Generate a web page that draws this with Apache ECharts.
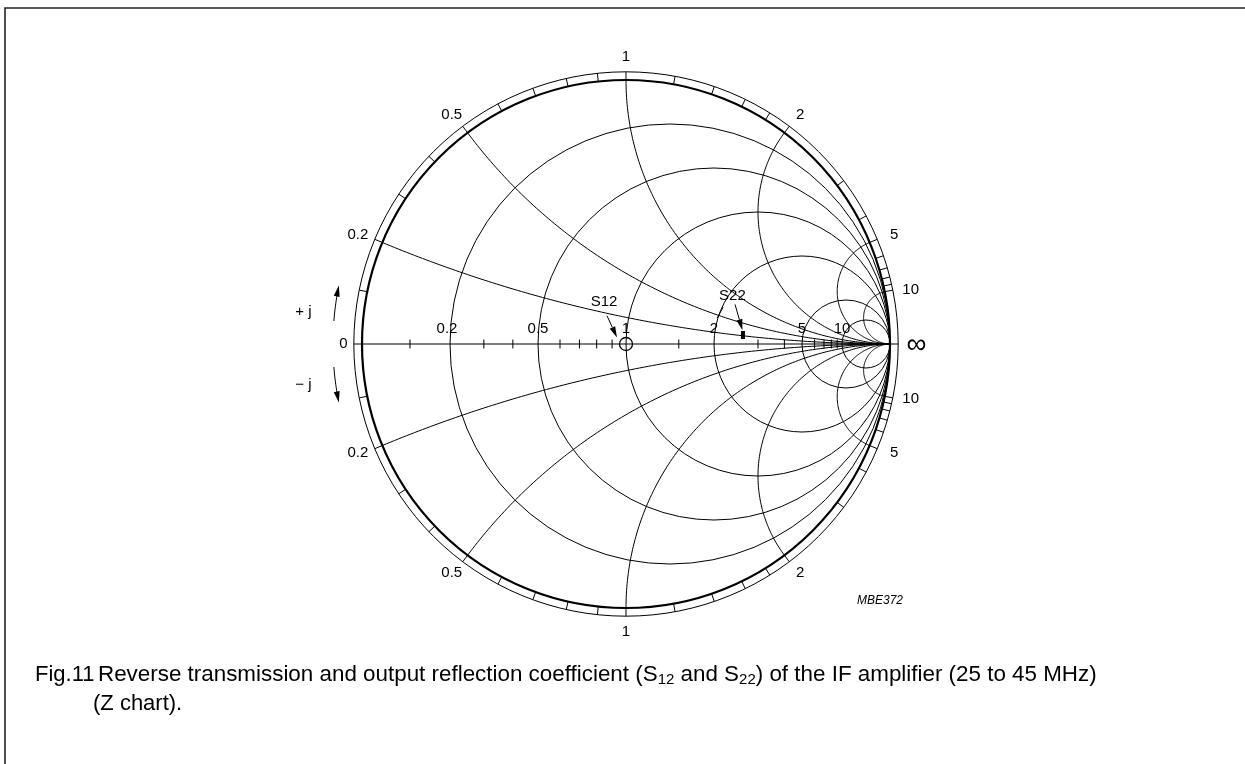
<!DOCTYPE html>
<html>
<head>
<meta charset="utf-8">
<title>Fig.11 Z chart</title>
<script src="https://cdn.jsdelivr.net/npm/echarts@6/dist/echarts.min.js"></script>
<style>
html, body { margin: 0; padding: 0; background: #fff; }
#chart { width: 1245px; height: 764px; }
</style>
</head>
<body>
<div id="chart"></div>
<script>
// chart grid values (normalised impedance)
var resistanceCircles = [0.2, 0.5, 1, 2, 5, 10];
var reactanceArcs = [0.2, 0.5, 1, 2, 5, 10];
var rimLabels = ['0.2', '0.5', '1', '2', '5', '10'];
var axisLabels = ['0.2', '0.5', '1', '2', '5', '10'];
var rimTicks = [0.1, 0.2, 0.3, 0.4, 0.5, 0.6, 0.7, 0.8, 0.9, 1, 1.2, 1.4, 1.6, 1.8, 2, 3, 4, 5, 6, 7, 8, 9, 10];
var axisTicks = [0.1, 0.3, 0.4, 0.6, 0.7, 0.8, 0.9, 1.5, 3, 4, 6, 7, 8, 9];

// measured points, reflection plane [re, im], 25 -> 45 MHz
var s12Points = [[0, 0]];
var s22Points = [[0.443, 0.019], [0.443, 0.049]];

var FONT = "'Liberation Sans', Arial, Helvetica, sans-serif";

// gamma = (z - 1) / (z + 1)
function gammaFromZ(r, x) {
	var a = r - 1, c = r + 1;
	var den = c * c + x * x;
	return [(a * c + x * x) / den, (x * c - a * x) / den];
}

function both(list) {
	var out = [];
	for (var i = 0; i < list.length; i++) {
		out.push([list[i], i]);
		out.push([-list[i], i]);
	}
	return out;
}

function lineStyle(w, c) {
	return { fill: 'none', stroke: c || '#000', lineWidth: w || 1 };
}

function textEl(x, y, txt, size, extra) {
	return {
		type: 'text', silent: true,
		style: {
			x: x, y: y, text: txt, font: (extra || '') + size + 'px ' + FONT,
			fill: '#000', align: 'center', verticalAlign: 'middle'
		}
	};
}

function renderResistance(params, api) {
	var r = api.value(0);
	var c = api.coord([r / (1 + r), 0]);
	var rad = api.size([1 / (1 + r), 0])[0];
	return { type: 'circle', silent: true, shape: { cx: c[0], cy: c[1], r: rad }, style: lineStyle(1) };
}

function renderReactance(params, api) {
	var x = api.value(0);
	var ax = Math.abs(x), s = x < 0 ? -1 : 1;
	var R = 1 / ax;
	var end = gammaFromZ(0, ax);
	var a0 = -Math.PI / 2;
	var a1 = Math.atan2(end[1] - R, end[0] - 1);
	if (a1 > a0) a1 -= 2 * Math.PI;
	var pts = [];
	for (var k = 0; k <= 120; k++) {
		var a = a0 + (a1 - a0) * k / 120;
		pts.push(api.coord([1 + R * Math.cos(a), s * (R + R * Math.sin(a))]));
	}
	return { type: 'polyline', silent: true, shape: { points: pts }, style: lineStyle(1) };
}

function renderRimTick(params, api) {
	var g = gammaFromZ(0, api.value(0));
	var p1 = api.coord(g);
	var p2 = api.coord([g[0] * 1.031, g[1] * 1.031]);
	return { type: 'line', silent: true, shape: { x1: p1[0], y1: p1[1], x2: p2[0], y2: p2[1] }, style: lineStyle(1) };
}

function renderRimLabel(params, api) {
	var x = api.value(0);
	var g = gammaFromZ(0, x);
	var p = api.coord([g[0] * 1.1, g[1] * 1.1]);
	return textEl(p[0], p[1] + (x > 0 ? 3 : -3), rimLabels[api.value(1)], 15);
}

function renderAxisTick(params, api) {
	var g = gammaFromZ(api.value(0), 0);
	var p = api.coord(g);
	return { type: 'line', silent: true, shape: { x1: p[0], y1: p[1] - 4.5, x2: p[0], y2: p[1] + 4.5 }, style: lineStyle(1) };
}

function renderAxisLabel(params, api) {
	var i = api.value(1);
	var g = gammaFromZ(api.value(0), 0);
	var p = api.coord(g);
	return textEl(p[0] + (i == 0 ? -3 : 0), p[1] - 15, axisLabels[i], 15);
}

function renderFrame(params, api) {
	var c = api.coord([0, 0]);
	var r1 = api.size([1, 0])[0];
	var a = api.coord([-1.031, 0]);
	var b = api.coord([1.031, 0]);
	var zero = api.coord([-1.07, 0]);
	var inf = api.coord([1.1, 0]);
	return {
		type: 'group', silent: true,
		children: [
			{ type: 'line', shape: { x1: a[0], y1: a[1], x2: b[0], y2: b[1] }, style: lineStyle(1.6, '#555') },
			{ type: 'circle', shape: { cx: c[0], cy: c[1], r: r1 }, style: lineStyle(2.2) },
			{ type: 'circle', shape: { cx: c[0], cy: c[1], r: r1 * 1.031 }, style: lineStyle(1) },
			textEl(zero[0], zero[1], '0', 15),
			textEl(inf[0], inf[1] + 1, '\u221e', 28)
		]
	};
}

// +j / -j direction arcs, in degrees round the chart centre
function jArc(from, to) {
	var pts = [];
	for (var k = 0; k <= 12; k++) {
		var t = (from + (to - from) * k / 12) * Math.PI / 180;
		pts.push([1.11 * Math.cos(t), 1.11 * Math.sin(t)]);
	}
	return pts;
}

var arrowPaths = [
	[[-0.072, 0.107], [-0.034, 0.025]],   // S12
	[[0.413, 0.150], [0.441, 0.052]],     // S22
	jArc(175.5, 168.5),                   // + j
	jArc(184.5, 191.5)                    // - j
];

function renderArrow(params, api) {
	var path = arrowPaths[api.value(0)];
	var pts = path.map(function(p) { return api.coord(p); });
	var n = pts.length;
	var tip = pts[n - 1], prev = pts[n - 2];
	var dx = tip[0] - prev[0], dy = tip[1] - prev[1];
	var len = Math.sqrt(dx * dx + dy * dy);
	dx /= len; dy /= len;
	var L = 11, H = 3;
	var bx = tip[0] - dx * L, by = tip[1] - dy * L;
	pts[n - 1] = [bx, by];
	return {
		type: 'group', silent: true,
		children: [
			{ type: 'polyline', shape: { points: pts }, style: lineStyle(1) },
			{
				type: 'polygon',
				shape: { points: [tip, [bx - dy * H, by + dx * H], [bx + dy * H, by - dx * H]] },
				style: { fill: '#000', stroke: 'none' }
			}
		]
	};
}

var annotations = [
	{ text: 'S12', at: [-0.083, 0.158] },
	{ text: 'S22', at: [0.403, 0.182] },
	{ text: '+ j', at: [-1.222, 0.122] },
	{ text: '\u2212 j', at: [-1.222, -0.155] }
];

function renderAnnotation(params, api) {
	var i = api.value(0);
	var p = api.coord(annotations[i].at);
	var g = { type: 'group', silent: true, children: [textEl(p[0], p[1], annotations[i].text, 15)] };
	if (i == 1) {
		// second leader from the S22 label
		var a = api.coord([0.368, 0.140]), b = api.coord([0.345, 0.098]);
		g.children.push({ type: 'line', shape: { x1: a[0], y1: a[1], x2: b[0], y2: b[1] }, style: lineStyle(1) });
	}
	return g;
}

function idx(list) {
	return list.map(function(v, i) { return [i, 0]; });
}

var chart = echarts.init(document.getElementById('chart'));
chart.setOption({
	animation: false,
	backgroundColor: '#fff',
	grid: { left: 98, right: 91, top: 27.2, bottom: 103.2 },
	xAxis: { type: 'value', min: -2, max: 2, show: false },
	yAxis: { type: 'value', min: -1.2, max: 1.2, show: false },
	series: [{
		type: 'custom', name: 'frame', renderItem: renderFrame, data: [[0, 0]], z: 1
	}, {
		type: 'custom', name: 'resistance', renderItem: renderResistance,
		data: resistanceCircles.map(function(v, i) { return [v, i]; }), z: 2
	}, {
		type: 'custom', name: 'reactance', renderItem: renderReactance, data: both(reactanceArcs), z: 2
	}, {
		type: 'custom', name: 'rimTicks', renderItem: renderRimTick, data: both(rimTicks), z: 2
	}, {
		type: 'custom', name: 'rimLabels', renderItem: renderRimLabel, data: both(reactanceArcs), z: 3
	}, {
		type: 'custom', name: 'axisTicks', renderItem: renderAxisTick,
		data: axisTicks.map(function(v, i) { return [v, i]; }), z: 3
	}, {
		type: 'custom', name: 'axisLabels', renderItem: renderAxisLabel,
		data: resistanceCircles.map(function(v, i) { return [v, i]; }), z: 3
	}, {
		name: 'S12', type: 'scatter', data: s12Points, symbol: 'circle', symbolSize: 13, z: 5,
		itemStyle: { color: 'rgba(255,255,255,0)', borderColor: '#000', borderWidth: 1.3, opacity: 1 }
	}, {
		name: 'S22', type: 'line', data: s22Points, showSymbol: false, z: 5,
		lineStyle: { color: '#000', width: 4, cap: 'butt' }
	}, {
		type: 'custom', name: 'arrows', renderItem: renderArrow, data: idx(arrowPaths), z: 6
	}, {
		type: 'custom', name: 'annotations', renderItem: renderAnnotation, data: idx(annotations), z: 7
	}],
	graphic: [{
		type: 'rect', silent: true,
		shape: { x: 5, y: 8, width: 1300, height: 800 },
		style: { fill: 'none', stroke: '#222', lineWidth: 1.6 }
	}, {
		type: 'text', silent: true,
		style: { x: 880, y: 601, text: 'MBE372', font: 'italic 12px ' + FONT, fill: '#000', align: 'center', verticalAlign: 'middle' }
	}, {
		type: 'text', silent: true,
		style: { x: 35, y: 675, text: 'Fig.11', font: '22px ' + FONT, fill: '#000', verticalAlign: 'middle' }
	}, {
		type: 'text', silent: true,
		style: {
			x: 98, y: 675,
			text: 'Reverse transmission and output reflection coefficient (S{sub|12} and S{sub|22}) of the IF amplifier (25 to 45 MHz)',
			font: '22.4px ' + FONT, fill: '#000', lineHeight: 25, verticalAlign: 'middle',
			rich: { sub: { fontSize: 15, fontFamily: FONT, lineHeight: 15, verticalAlign: 'bottom' } }
		}
	}, {
		type: 'text', silent: true,
		style: { x: 93, y: 704, text: '(Z chart).', font: '22px ' + FONT, fill: '#000', verticalAlign: 'middle' }
	}]
});
</script>
</body>
</html>
